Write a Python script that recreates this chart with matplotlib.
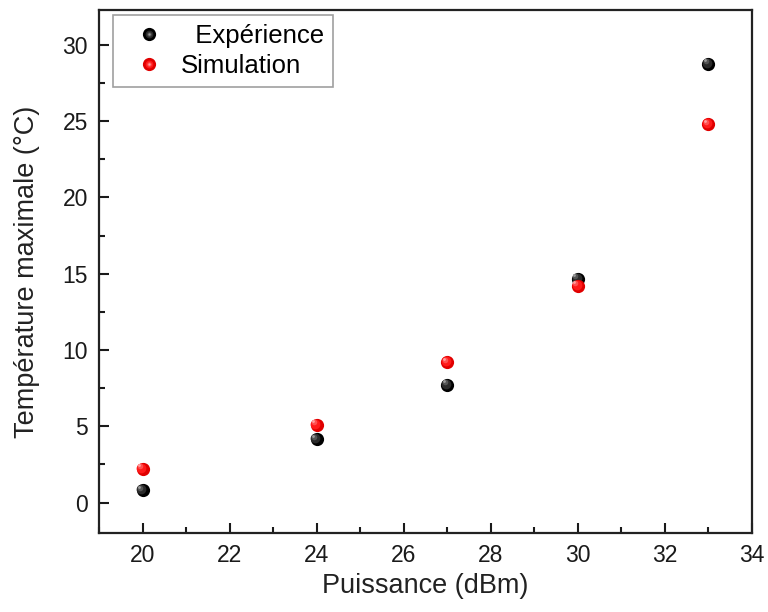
import matplotlib
matplotlib.use("Agg")
import matplotlib.pyplot as plt
import matplotlib.transforms as mtransforms
from matplotlib.ticker import MultipleLocator
from matplotlib.legend_handler import HandlerTuple
from matplotlib.lines import Line2D

plt.rcParams['font.family'] = ['Liberation Sans', 'DejaVu Sans']

# values
puissance = [20, 24, 27, 30, 33]
temp_experience = [0.8, 4.15, 7.7, 14.65, 28.75]
temp_simulation = [2.2, 5.1, 9.2, 14.2, 24.8]

MS = 9.5
black_shades = [('#2a2a2a', 7.0), ('#555555', 4.0), ('#9a9a9a', 2.0)]
red_shades = [('#ff1a1a', 7.0), ('#ff5050', 4.0), ('#ffa0a0', 2.0)]

fig = plt.figure(figsize=(7.68, 6.12), dpi=100)
ax = fig.add_axes([0.129, 0.129, 0.850, 0.855])


# 3D-looking balls: dark base plus lighter spots shifted up-left
def ball(ax, x, y, base, shades, z):
    ax.plot(x, y, 'o', ms=MS, color=base, mec='none', zorder=z)
    for i, (c, s) in enumerate(shades):
        off = mtransforms.offset_copy(ax.transData, fig=fig,
                                      x=-0.35 * (MS - s), y=0.35 * (MS - s), units='points')
        ax.plot(x, y, 'o', ms=s, color=c, mec='none', zorder=z + 0.1 * (i + 1),
                transform=off)


def ball_handle(base, shades):
    hs = [Line2D([], [], marker='o', ls='', ms=MS, color=base, mec='none')]
    for c, s in shades:
        hs.append(Line2D([], [], marker='o', ls='', ms=s * 0.8, color=c, mec='none'))
    return tuple(hs)


ball(ax, puissance, temp_experience, '#000000', black_shades, 3)
ball(ax, puissance, temp_simulation, '#e00000', red_shades, 4)

leg = ax.legend([ball_handle('#000000', black_shades), ball_handle('#e00000', red_shades)],
                ['  Expérience', 'Simulation'],
                handler_map={tuple: HandlerTuple(ndivide=1)},
                loc='upper left', bbox_to_anchor=(0.0215, 0.99), fontsize=18.5,
                frameon=True, fancybox=False, edgecolor='#888888',
                handlelength=2.1, handletextpad=0.2, borderpad=0.35,
                labelspacing=0.25, borderaxespad=0)
leg.get_frame().set_linewidth(1.2)

ax.set_xlim(19, 34)
ax.set_ylim(-2, 32.3)
ax.xaxis.set_major_locator(MultipleLocator(2))
ax.xaxis.set_minor_locator(MultipleLocator(1))
ax.yaxis.set_major_locator(MultipleLocator(5))
ax.yaxis.set_minor_locator(MultipleLocator(2.5))
ax.tick_params(which='both', direction='in', top=False, right=False, width=1.5,
               labelsize=16.5, colors='#1a1a1a')
ax.tick_params(which='major', length=7, pad=8)
ax.tick_params(which='minor', length=4)
for s in ax.spines.values():
    s.set_linewidth(1.6)
    s.set_color('#222222')

ax.set_xlabel('Puissance (dBm)', fontsize=19.5, color='#222222', labelpad=4)
ax.set_ylabel('Température maximale (°C)', fontsize=19.5, color='#222222', labelpad=16)

fig.savefig('out.png', dpi=100)
